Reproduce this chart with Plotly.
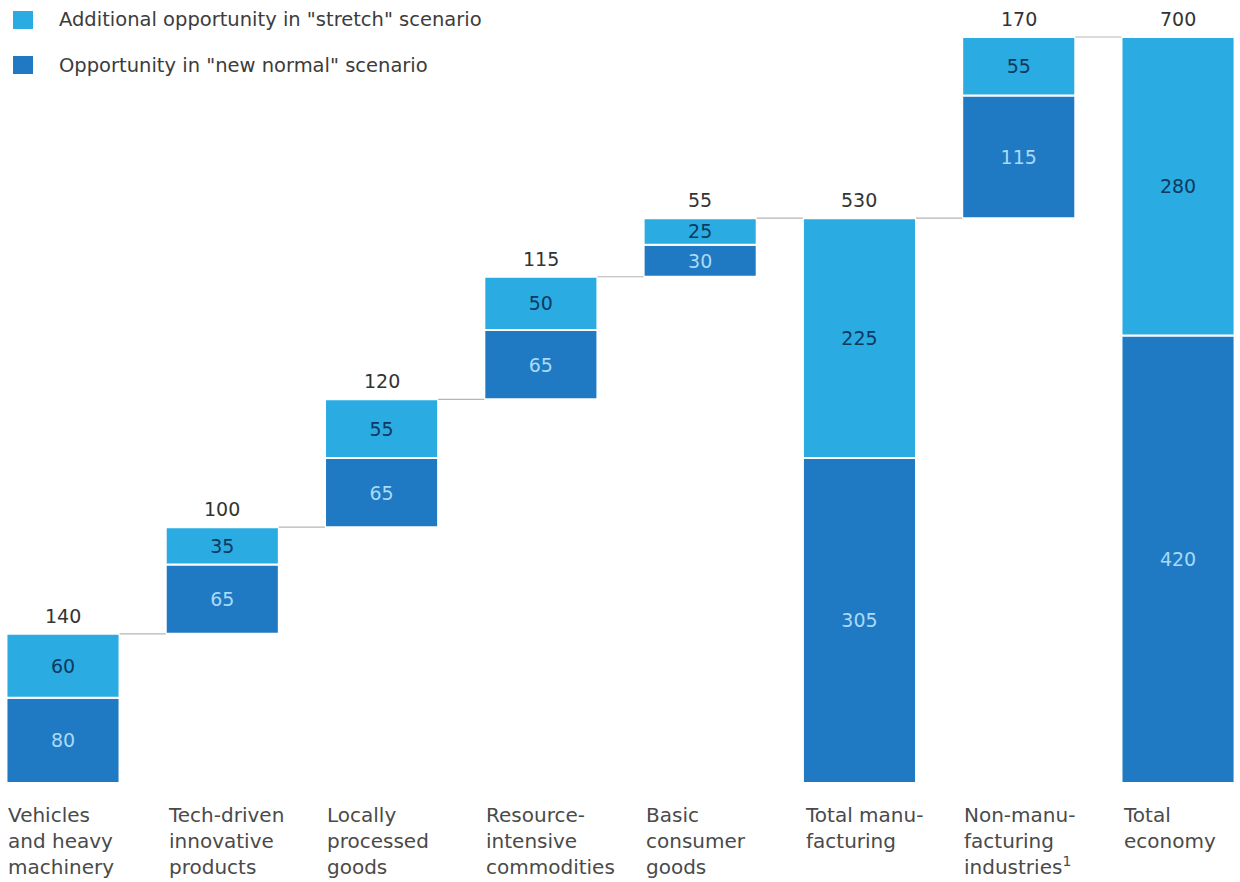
import plotly.graph_objects as go

# ---------------- data ----------------
categories = [
    "Vehicles<br>and heavy<br>machinery",
    "Tech-driven<br>innovative<br>products",
    "Locally<br>processed<br>goods",
    "Resource-<br>intensive<br>commodities",
    "Basic<br>consumer<br>goods",
    "Total manu-<br>facturing",
    "Non-manu-<br>facturing<br>industries<sup>1</sup>",
    "Total<br>economy",
]
new_normal = [80, 65, 65, 65, 30, 305, 115, 420]
stretch_extra = [60, 35, 55, 50, 25, 225, 55, 280]
totals = [140, 100, 120, 115, 55, 530, 170, 700]
is_total = [False, False, False, False, False, True, False, True]
legend_labels = ['Additional opportunity in "stretch" scenario',
                 'Opportunity in "new normal" scenario']

# ---------------- styles ----------------
LIGHT = "#2AABE2"
DARK = "#1F7AC3"
FONT = "DejaVu Sans"
BAR_W = 0.71

# waterfall bases
bases = []
running = 0
for t, tot in zip(totals, is_total):
    if tot:
        bases.append(0)
        running = t
    else:
        bases.append(running)
        running += t

x = list(range(len(categories)))
dark_base = bases
light_base = [b + d for b, d in zip(bases, new_normal)]
tops = [b + t for b, t in zip(bases, totals)]

fig = go.Figure()

fig.add_trace(go.Bar(
    x=x, y=new_normal, base=dark_base, width=BAR_W,
    marker=dict(color=DARK, line=dict(color="white", width=2)),
    text=[str(v) for v in new_normal], textposition="inside",
    insidetextanchor="middle",
    textfont=dict(family=FONT, size=19, color="#A9DAF6"),
    name=legend_labels[1], showlegend=False, hoverinfo="skip",
))
fig.add_trace(go.Bar(
    x=x, y=stretch_extra, base=light_base, width=BAR_W,
    marker=dict(color=LIGHT, line=dict(color="white", width=2)),
    text=[str(v) for v in stretch_extra], textposition="inside",
    insidetextanchor="middle",
    textfont=dict(family=FONT, size=19, color="#0C3A60"),
    name=legend_labels[0], showlegend=False, hoverinfo="skip",
))

# connectors
cx, cy = [], []
for i in range(len(x) - 1):
    cx += [x[i] + BAR_W / 2, x[i + 1] - BAR_W / 2, None]
    cy += [tops[i], tops[i], None]
fig.add_trace(go.Scatter(x=cx, y=cy, mode="lines",
                         line=dict(color="#B5B5B5", width=1.2),
                         showlegend=False, hoverinfo="skip"))

annotations = []
# totals above bars
for i, (t, top) in enumerate(zip(totals, tops)):
    annotations.append(dict(x=x[i], y=top, text=str(t), showarrow=False,
                            xanchor="center", yanchor="bottom", yshift=5,
                            font=dict(family=FONT, size=19, color="#333333")))
# category labels
for i, c in enumerate(categories):
    annotations.append(dict(x=x[i] - BAR_W / 2, y=-17, text=c, showarrow=False,
                            xanchor="left", yanchor="top", align="left",
                            font=dict(family=FONT, size=20, color="#4A4A4A")))

# legend (custom)
W, H = 1240, 882
shapes = []
leg_rows = [(legend_labels[0], LIGHT, 20), (legend_labels[1], DARK, 65)]
for lab, col, cyp in leg_rows:
    shapes.append(dict(type="rect", xref="paper", yref="paper",
                       x0=13 / W, x1=33 / W, y0=1 - (cyp + 9) / H, y1=1 - (cyp - 9) / H,
                       fillcolor=col, line=dict(width=0)))
    annotations.append(dict(xref="paper", yref="paper", x=57 / W, y=1 - cyp / H,
                            text=lab, showarrow=False, xanchor="left", yanchor="middle",
                            font=dict(family=FONT, size=19.5, color="#3C3C3C")))

fig.update_layout(
    width=W, height=H, autosize=False,
    margin=dict(l=0, r=0, t=0, b=0),
    paper_bgcolor="white", plot_bgcolor="white",
    barmode="overlay",
    uniformtext=dict(minsize=19, mode="show"),
    xaxis=dict(range=[-0.3955, 7.389], visible=False, fixedrange=True),
    yaxis=dict(range=[-92.9, 734.7], visible=False, fixedrange=True),
    annotations=annotations, shapes=shapes,
    showlegend=False,
)

fig.write_html("out.html")
